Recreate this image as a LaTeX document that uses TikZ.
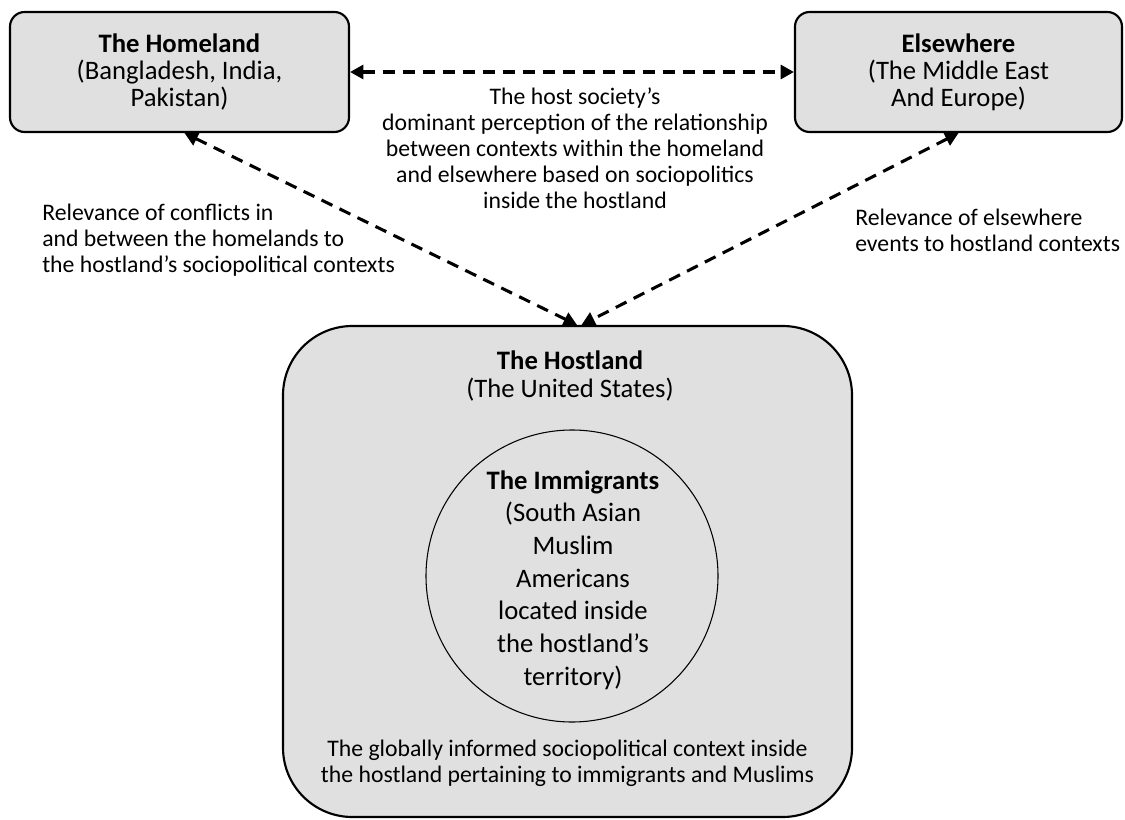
\documentclass[tikz,border=0pt]{standalone}
\usepackage{fontspec}
\setmainfont{Carlito}
\usetikzlibrary{arrows.meta,calc}
\definecolor{boxgray}{RGB}{224,224,224}
\tikzset{
  place/.style={draw=black, line width=1.6pt, fill=boxgray, inner sep=0pt},
  boxtext/.style={font=\fontsize{20}{20.4}\selectfont, align=center},
  labeltext/.style={font=\fontsize{17.8}{19.5}\selectfont, inner sep=0pt},
  linkarrow/.style={line width=2.3pt, dash pattern=on 9pt off 6pt,
    {Triangle[length=10pt,width=10.5pt]}-{Triangle[length=10pt,width=10.5pt]}},
}
\begin{document}
\begin{tikzpicture}[x=0.75pt,y=-0.75pt]
\useasboundingbox (0,0) rectangle (1125,820);

% regions
\node[place, rounded corners=11pt, minimum width=254.25pt, minimum height=90pt, boxtext]
  (home) at (179.5,72) {\textbf{The Homeland}\\(Bangladesh, India,\\Pakistan)};
\node[place, rounded corners=11pt, minimum width=245.25pt, minimum height=90pt, boxtext]
  (else) at (958.5,72) {\textbf{Elsewhere}\\(The Middle East\\And Europe)};
\node[place, rounded corners=52pt, minimum width=426.75pt, minimum height=368.25pt]
  (host) at (567.5,571.5) {};
\node[draw=black, line width=0.8pt, circle, fill=boxgray, minimum size=219pt, inner sep=0pt]
  (immig) at (572,576) {};

% texts inside the hostland
\node[boxtext] (hosttitle) at (570,376) {\textbf{The Hostland}\\(The United States)};
\node[boxtext, font=\fontsize{20}{24.5}\selectfont] (immigtext) at (573,580)
  {\textbf{The Immigrants}\\(South Asian\\Muslim\\Americans\\located inside\\the hostland’s\\territory)};
\node[labeltext, align=center] (context) at (567.5,763)
  {The globally informed sociopolitical context inside\\the hostland pertaining to immigrants and Muslims};

% relation labels
\node[labeltext, align=center] (perception) at (575,148)
  {The host society’s\\dominant perception of the relationship\\between contexts within the homeland\\and elsewhere based on sociopolitics\\inside the hostland};
\node[labeltext, align=left, anchor=west] (conflicts) at (42,240)
  {Relevance of conflicts in\\and between the homelands to\\the hostland’s sociopolitical contexts};
\node[labeltext, align=left, anchor=west] (events) at (855,230)
  {Relevance of elsewhere\\events to hostland contexts};

% connectors
\draw[linkarrow] (home.east) -- (else.west);
\draw[linkarrow] ($(home.south)+(5,0)$) -- ($(host.north)+(9.5,0)$);
\draw[linkarrow] (else.south) -- ($(host.north)+(14,0)$);
\end{tikzpicture}
\end{document}
